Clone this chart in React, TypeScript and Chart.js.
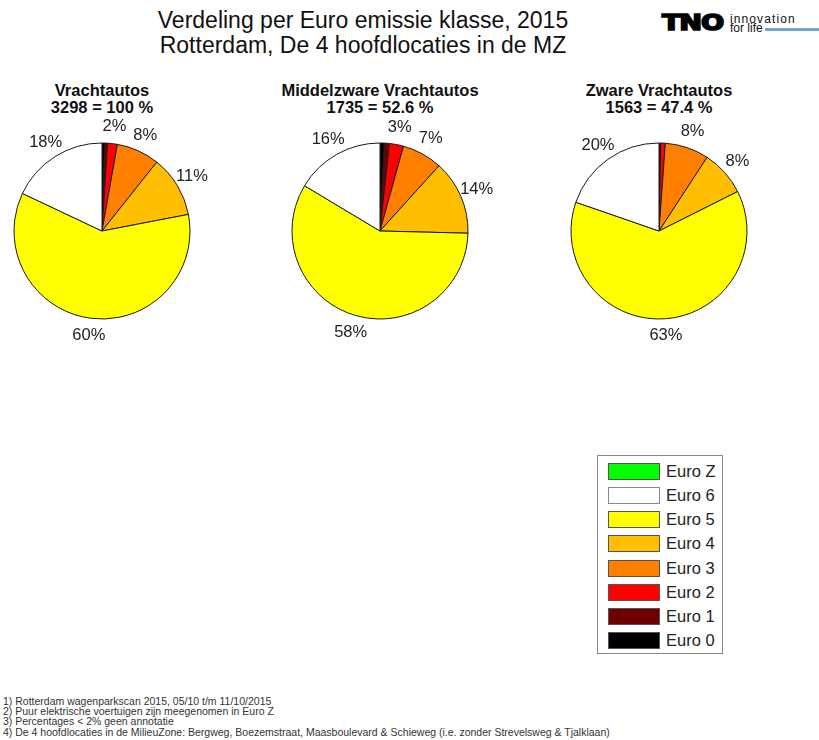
import React, { useEffect, useRef } from "react";
import { Chart, registerables } from "chart.js";

Chart.register(...registerables);

// ---- data ----
const classes = ["Euro 0", "Euro 1", "Euro 2", "Euro 3", "Euro 4", "Euro 5", "Euro 6", "Euro Z"];
const classColors = ["#000000", "#700000", "#ff0000", "#ff8000", "#ffbf00", "#ffff00", "#ffffff", "#00ff00"];

// shares in % per Euro class (Euro 0 .. Euro Z)
const vrachtautos = [0.5, 0.5, 1.8, 7.9, 11.3, 60.1, 18.0, 0];
const middelzware = [0.8, 0.9, 2.6, 7.4, 13.7, 58.2, 16.4, 0];
const zware = [0.1, 0.2, 0.85, 8.05, 8.4, 62.7, 19.7, 0];

const pieTitles = ["Vrachtautos", "Middelzware Vrachtautos", "Zware Vrachtautos"];
const pieSubtitles = ["3298 = 100 %", "1735 = 52.6 %", "1563 = 47.4 %"];

const mainTitle = ["Verdeling per Euro emissie klasse, 2015", "Rotterdam, De 4 hoofdlocaties in de MZ"];

const footnotes = [
  "1) Rotterdam wagenparkscan 2015, 05/10 t/m 11/10/2015",
  "2) Puur elektrische voertuigen zijn meegenomen in Euro Z",
  "3) Percentages < 2% geen annotatie",
  "4) De 4 hoofdlocaties in de MilieuZone: Bergweg, Boezemstraat, Maasboulevard & Schieweg (i.e. zonder Strevelsweg & Tjalklaan)",
];

const FONT = '"Liberation Sans", Arial, Helvetica, sans-serif';

const pctLabels = {
  id: "pctLabels",
  afterDatasetsDraw(chart: any) {
    const ctx = chart.ctx as CanvasRenderingContext2D;
    const meta = chart.getDatasetMeta(0);
    const data = chart.data.datasets[0].data as number[];
    const total = data.reduce((a, b) => a + b, 0);
    ctx.save();
    ctx.font = `16.5px ${FONT}`;
    ctx.fillStyle = "#222";
    ctx.textAlign = "center";
    ctx.textBaseline = "middle";
    meta.data.forEach((el: any, i: number) => {
      const pct = Math.round((data[i] / total) * 100);
      if (pct < 2) return;
      const { x, y, startAngle, endAngle, outerRadius } = el.getProps(
        ["x", "y", "startAngle", "endAngle", "outerRadius"],
        true
      );
      const mid = (startAngle + endAngle) / 2;
      const d = outerRadius * 1.195;
      ctx.fillText(pct + "%", x + Math.cos(mid) * d, y + Math.sin(mid) * d);
    });
    ctx.restore();
  },
};

const SIZE = 230;

function Pie({ values, cx, cy }: { values: number[]; cx: number; cy: number }) {
  const ref = useRef<HTMLCanvasElement>(null);
  useEffect(() => {
    if (!ref.current) return;
    const chart = new Chart(ref.current, {
      type: "pie",
      data: {
        labels: classes,
        datasets: [
          {
            data: values,
            backgroundColor: classColors,
            borderColor: "#1a1a1a",
            borderWidth: 1,
          },
        ],
      },
      options: {
        responsive: false,
        animation: false,
        events: [],
        radius: 88,
        layout: { padding: 0 },
        plugins: { legend: { display: false }, tooltip: { enabled: false }, title: { display: false } },
      } as any,
      plugins: [pctLabels],
    });
    return () => chart.destroy();
  }, []);
  return (
    <canvas
      ref={ref}
      width={SIZE}
      height={SIZE}
      style={{ position: "absolute", left: cx - SIZE / 2, top: cy - SIZE / 2, width: SIZE, height: SIZE }}
    />
  );
}

const pieCenters = [102, 380, 659];
const pieCY = 231;
const pieData = [vrachtautos, middelzware, zware];

export default function App() {
  const legendOrder = [...classes.keys()].reverse();
  return (
    <div
      style={{
        position: "absolute",
        left: 0,
        top: 0,
        width: 819,
        height: 740,
        background: "#fff",
        overflow: "hidden",
        fontFamily: FONT,
        color: "#111",
      }}
    >
      {/* main title */}
      <div
        style={{
          position: "absolute",
          left: 0,
          top: 8,
          width: 726,
          textAlign: "center",
          fontSize: 23,
          lineHeight: "25px",
          color: "#111",
        }}
      >
        {mainTitle.map((t, i) => (
          <div key={i}>{t}</div>
        ))}
      </div>

      {/* TNO logo */}
      <div
        style={{
          position: "absolute",
          left: 662,
          top: 11.8,
          fontFamily: '"DejaVu Sans", sans-serif',
          fontWeight: 900,
          fontSize: 21.5,
          lineHeight: 1,
          transform: "scaleX(1.27)",
          transformOrigin: "left top",
          WebkitTextStroke: "1.6px #000",
          color: "#000",
          letterSpacing: -1,
        }}
      >
        TNO
      </div>
      <div style={{ position: "absolute", left: 730, top: 12.8, fontSize: 12, lineHeight: 1, letterSpacing: 1.1, color: "#111" }}>
        innovation
      </div>
      <div style={{ position: "absolute", left: 730, top: 21.5, fontSize: 12, lineHeight: 1, color: "#111" }}>
        for life
      </div>
      <div style={{ position: "absolute", left: 765, top: 27.7, width: 54, height: 3.5, background: "#6fa6d8" }} />

      {/* pie titles */}
      {pieTitles.map((t, i) => (
        <div
          key={i}
          style={{
            position: "absolute",
            left: pieCenters[i] - 150,
            width: 300,
            top: 82,
            textAlign: "center",
            fontWeight: "bold",
            fontSize: 16.5,
            lineHeight: "17px",
            color: "#111",
          }}
        >
          <div>{t}</div>
          <div>{pieSubtitles[i]}</div>
        </div>
      ))}

      {pieData.map((v, i) => (
        <Pie key={i} values={v} cx={pieCenters[i]} cy={pieCY} />
      ))}

      {/* legend */}
      <div
        style={{
          position: "absolute",
          left: 597,
          top: 455,
          width: 126,
          height: 199,
          boxSizing: "border-box",
          border: "1px solid #8a8a8a",
        }}
      />
      {legendOrder.map((ci, r) => (
        <React.Fragment key={ci}>
          <div
            style={{
              position: "absolute",
              left: 608,
              top: 462.5 + r * 24.25,
              width: 52,
              height: 17,
              boxSizing: "border-box",
              border: `1px solid ${classColors[ci] === "#ffffff" ? "#888" : "#555"}`,
              background: classColors[ci],
            }}
          />
          <div
            style={{
              position: "absolute",
              left: 666,
              top: 462.5 + r * 24.25 - 1,
              height: 19,
              lineHeight: "19px",
              fontSize: 16.5,
              color: "#222",
              whiteSpace: "nowrap",
            }}
          >
            {classes[ci]}
          </div>
        </React.Fragment>
      ))}

      {/* footnotes */}
      <div
        style={{
          position: "absolute",
          left: 3,
          top: 695.5,
          fontSize: 10.5,
          lineHeight: "10.4px",
          color: "#333",
          whiteSpace: "nowrap",
        }}
      >
        {footnotes.map((f, i) => (
          <div key={i}>{f}</div>
        ))}
      </div>
    </div>
  );
}
